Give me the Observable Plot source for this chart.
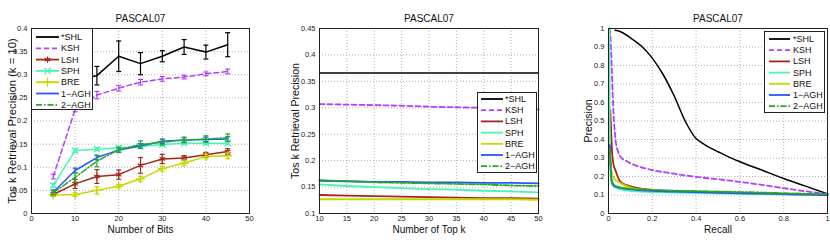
<!DOCTYPE html>
<html><head><meta charset="utf-8">
<script src="https://cdn.jsdelivr.net/npm/d3@7"></script>
<script src="https://cdn.jsdelivr.net/npm/@observablehq/plot@0.6"></script>
<style>
body{margin:0;background:#fff;font-family:"Liberation Sans",Arial,sans-serif;}
#wrap{position:relative;width:830px;height:249px;overflow:hidden;background:#fff;}
#wrap svg{position:absolute;top:0;}
</style></head><body><div id="wrap"></div>
<script>
const methods = ["*SHL","KSH","LSH","SPH","BRE","1\u2212AGH","2\u2212AGH"];
const colors = ["#000000","#b040ff","#a4261c","#48f5b4","#c4d800","#2656ff","#22aa22"];
const dashes = [null,"5,3",null,null,null,null,"6,2,1.5,2"];
const markers = [null,null,"asterisk","times","plus",null,null];
const title = "PASCAL07";

// Panel 1: precision vs number of bits
const bits = [5,10,15,20,25,30,35,40,45];
const p1SHL = [null,0.29,0.298,0.34,0.324,0.34,0.36,0.349,0.365];
const e1SHL = [null,0.02,0.02,0.033,0.024,0.012,0.016,0.015,0.026];
const p1KSH = [0.08,0.225,0.256,0.271,0.284,0.291,0.295,0.302,0.307];
const e1KSH = [0.005,0.005,0.008,0.006,0.006,0.005,0.004,0.004,0.005];
const p1LSH = [0.041,0.064,0.08,0.084,0.104,0.118,0.12,0.127,0.134];
const e1LSH = [0.004,0.01,0.015,0.01,0.017,0.01,0.005,0.005,0.006];
const p1SPH = [0.061,0.136,0.139,0.142,0.145,0.149,0.152,0.152,0.152];
const e1SPH = [0.004,0.004,0.003,0.003,0.003,0.003,0.003,0.003,0.003];
const p1BRE = [0.04,0.041,0.05,0.059,0.075,0.097,0.109,0.123,0.125];
const e1BRE = [0.003,0.004,0.008,0.004,0.005,0.005,0.005,0.005,0.006];
const p1AGH1 = [0.046,0.093,0.121,0.137,0.146,0.156,0.159,0.16,0.161];
const e1AGH1 = [0.005,0.005,0.005,0.005,0.005,0.005,0.005,0.005,0.005];
const p1AGH2 = [0.045,0.078,0.113,0.138,0.149,0.154,0.159,0.161,0.164];
const e1AGH2 = [0.004,0.01,0.012,0.005,0.008,0.006,0.006,0.007,0.008];
const xTicks1 = [0,10,20,30,40,50];
const yTicks1 = [0,0.05,0.1,0.15,0.2,0.25,0.3,0.35,0.4];

// Panel 2: precision vs number of top k
const topK = [10,15,20,25,30,35,40,45,50];
const p2SHL = [0.366,0.366,0.366,0.366,0.366,0.366,0.366,0.366,0.366];
const p2KSH = [0.307,0.306,0.305,0.304,0.302,0.301,0.300,0.298,0.297];
const p2LSH = [0.135,0.134,0.133,0.132,0.131,0.130,0.129,0.129,0.128];
const p2SPH = [0.155,0.152,0.150,0.148,0.146,0.145,0.143,0.142,0.140];
const p2BRE = [0.127,0.127,0.127,0.127,0.127,0.127,0.127,0.127,0.126];
const p2AGH1 = [0.162,0.161,0.160,0.160,0.159,0.159,0.158,0.158,0.157];
const p2AGH2 = [0.163,0.161,0.159,0.158,0.157,0.156,0.155,0.153,0.152];
const xTicks2 = [10,15,20,25,30,35,40,45,50];
const yTicks2 = [0.1,0.15,0.2,0.25,0.3,0.35,0.4,0.45];

// Panel 3: precision-recall curves
const rSHL = [0.03,0.05,0.1,0.15,0.2,0.25,0.3,0.35,0.4,0.425,0.45,0.5,0.55,0.6,0.7,0.8,0.9,1.0];
const pSHL = [0.99,0.985,0.95,0.905,0.84,0.75,0.635,0.5,0.405,0.383,0.364,0.334,0.305,0.28,0.235,0.189,0.148,0.106];
const rKSH = [0.006,0.01,0.015,0.02,0.025,0.032,0.045,0.06,0.08,0.1,0.2,0.3,0.4,0.5,0.6,0.7,0.8,0.9,1.0];
const pKSH = [1.0,0.93,0.78,0.62,0.5,0.4,0.33,0.30,0.285,0.272,0.235,0.215,0.198,0.185,0.171,0.155,0.137,0.12,0.105];
const rLSH = [0.008,0.011,0.014,0.017,0.022,0.032,0.055,0.1,0.146,0.2,0.3,0.5,0.7,1.0];
const pLSH = [0.56,0.48,0.39,0.32,0.27,0.232,0.17,0.147,0.135,0.128,0.122,0.115,0.108,0.1];
const rSPH = [0.004,0.005,0.006,0.008,0.012,0.02,0.04,0.08,0.15,0.3,0.5,0.7,1.0];
const pSPH = [1.0,0.7,0.4,0.25,0.18,0.15,0.135,0.125,0.118,0.113,0.109,0.105,0.1];
const rBRE = [0.008,0.012,0.02,0.04,0.07,0.1,0.15,0.2,0.3,0.5,0.7,1.0];
const pBRE = [0.32,0.25,0.2,0.175,0.155,0.14,0.13,0.125,0.12,0.113,0.107,0.1];
const rAGH1 = [0.006,0.009,0.012,0.017,0.025,0.05,0.1,0.2,0.3,0.5,0.7,1.0];
const pAGH1 = [0.37,0.28,0.2,0.165,0.15,0.14,0.13,0.122,0.118,0.112,0.107,0.1];
const rAGH2 = [0.006,0.01,0.015,0.025,0.05,0.1,0.2,0.4,0.6,0.8,1.0];
const pAGH2 = [0.35,0.24,0.18,0.155,0.142,0.133,0.127,0.121,0.116,0.11,0.103];
const xTicks3 = [0,0.2,0.4,0.6,0.8,1];
const yTicks3 = [0,0.1,0.2,0.3,0.4,0.5,0.6,0.7,0.8,0.9,1];

const FONT = "Liberation Sans, Arial, Helvetica, sans-serif";
const fmt = d => String(+d.toFixed(2));
const cap = {draw(ctx, size){ const r = Math.sqrt(size/Math.PI); ctx.moveTo(-r,0); ctx.lineTo(r,0); }};

function frameMarks(o){
  return [
    Plot.gridX(o.xTicks, {stroke:"#b0b0b0", strokeOpacity:1, strokeDasharray:"1,2"}),
    Plot.gridY(o.yTicks, {stroke:"#b0b0b0", strokeOpacity:1, strokeDasharray:"1,2"})
  ];
}
function decor(o){
  return [
    Plot.frame({stroke:"#222", strokeWidth:1}),
    Plot.axisX(o.xTicks, {tickSize:0, tickPadding:2, tickFormat:fmt, fontSize:7.5, fill:"#222", label:null}),
    Plot.axisY(o.yTicks, {tickSize:0, tickPadding:4, tickFormat:fmt, fontSize:7.5, fill:"#222", label:null}),
    Plot.text([title], {frameAnchor:"top", dy:-10, lineAnchor:"middle", textAnchor:"middle", fontSize:10, fill:"#111"}),
    Plot.text([o.xLabel], {frameAnchor:"bottom", dy:16, lineAnchor:"middle", textAnchor:"middle", fontSize:10, fill:"#111"}),
    Plot.text([o.yLabel], {frameAnchor:"left", rotate:-90, dx:o.yDx, lineAnchor:"middle", textAnchor:"middle", fontSize:o.ySize, fill:"#111"})
  ];
}
function panel(o, marks){
  const svg = Plot.plot({
    width:o.width, height:249, marginLeft:o.ml, marginRight:o.mr, marginTop:28, marginBottom:36,
    style:{fontFamily:FONT, background:"transparent", overflow:"visible"},
    x:{domain:o.xDomain}, y:{domain:o.yDomain},
    marks:[...frameMarks(o), ...marks, ...decor(o)]
  });
  svg.style.left = o.left + "px";
  document.getElementById("wrap").appendChild(svg);
}

// ---- Panel 1
const vals1 = [p1SHL,p1KSH,p1LSH,p1SPH,p1BRE,p1AGH1,p1AGH2];
const errs1 = [e1SHL,e1KSH,e1LSH,e1SPH,e1BRE,e1AGH1,e1AGH2];
const marks1 = [];
methods.forEach((m,i)=>{
  const rows = bits.map((b,j)=>({x:b, y:vals1[i][j], e:errs1[i][j]})).filter(d=>d.y!=null);
  marks1.push(Plot.line(rows, {x:"x", y:"y", stroke:colors[i], strokeWidth:1.5, strokeDasharray:dashes[i]||undefined}));
  marks1.push(Plot.ruleX(rows, {x:"x", y1:d=>d.y-d.e, y2:d=>d.y+d.e, stroke:colors[i], strokeWidth:1.2}));
  marks1.push(Plot.dot(rows, {x:"x", y:d=>d.y+d.e, symbol:cap, r:2.5, stroke:colors[i], strokeWidth:1.2}));
  marks1.push(Plot.dot(rows, {x:"x", y:d=>d.y-d.e, symbol:cap, r:2.5, stroke:colors[i], strokeWidth:1.2}));
  if (markers[i]) marks1.push(Plot.dot(rows, {x:"x", y:"y", symbol:markers[i], r:3, stroke:colors[i], strokeWidth:1.2}));
});
panel({left:0, width:276, ml:31, mr:27, xDomain:[0,50], yDomain:[0,0.4], xTicks:xTicks1, yTicks:yTicks1,
  xLabel:"Number of Bits", yLabel:"Tos k Retrieval Precision (k = 10)", yDx:-19, ySize:11.3}, marks1);

// ---- Panel 2
const vals2 = [p2SHL,p2KSH,p2LSH,p2SPH,p2BRE,p2AGH1,p2AGH2];
const marks2 = methods.map((m,i)=>{
  const rows = topK.map((k,j)=>({x:k, y:vals2[i][j]}));
  return Plot.line(rows, {x:"x", y:"y", stroke:colors[i], strokeWidth: i===0?1.5:1.8, strokeDasharray:dashes[i]||undefined});
});
panel({left:276, width:277, ml:43, mr:15, xDomain:[10,50], yDomain:[0.1,0.45], xTicks:xTicks2, yTicks:yTicks2,
  xLabel:"Number of Top k", yLabel:"Tos k Retrieval Precision", yDx:-24, ySize:10.6}, marks2);

// ---- Panel 3
const recs = [rSHL,rKSH,rLSH,rSPH,rBRE,rAGH1,rAGH2];
const precs = [pSHL,pKSH,pLSH,pSPH,pBRE,pAGH1,pAGH2];
const marks3 = methods.map((m,i)=>{
  const rows = recs[i].map((r,j)=>({x:r, y:precs[i][j]}));
  return Plot.line(rows, {x:"x", y:"y", stroke:colors[i], strokeWidth: i===0?1.5:1.8, strokeDasharray:dashes[i]||undefined, curve:"monotone-x"});
});
panel({left:553, width:277, ml:55, mr:3, xDomain:[0,1], yDomain:[0,1], xTicks:xTicks3, yTicks:yTicks3,
  xLabel:"Recall", yLabel:"Precision", yDx:-20, ySize:10.5}, marks3);

// ---- Legends
const symTypes = {asterisk:d3.symbolAsterisk, times:d3.symbolTimes, plus:d3.symbolPlus};
function legend(o){
  const svg = d3.select("#wrap").append("svg")
    .style("left", o.left+"px").style("top", o.top+"px")
    .attr("width", o.w).attr("height", o.h);
  svg.append("rect").attr("x",0.5).attr("y",0.5).attr("width",o.w-1).attr("height",o.h-1)
    .attr("fill","#fff").attr("stroke","#222").attr("stroke-width",1);
  methods.forEach((m,i)=>{
    const y = o.y0 + i*o.dy;
    svg.append("line").attr("x1",o.s1).attr("x2",o.s2).attr("y1",y).attr("y2",y)
      .attr("stroke",colors[i]).attr("stroke-width",1.8).attr("stroke-dasharray",dashes[i]);
    if (o.markers && markers[i]) {
      svg.append("path").attr("d", d3.symbol(symTypes[markers[i]], 9*Math.PI)())
        .attr("transform",`translate(${(o.s1+o.s2)/2},${y})`)
        .attr("fill","none").attr("stroke",colors[i]).attr("stroke-width",1.2);
    }
    svg.append("text").attr("x",o.tx).attr("y",y).attr("dominant-baseline","central")
      .attr("font-family",FONT).attr("font-size",9).attr("fill","#111").text(m);
  });
}
legend({left:31, top:28, w:62, h:82, y0:9, dy:11.3, s1:5, s2:28, tx:30, markers:true});
legend({left:477, top:92, w:60, h:81, y0:7, dy:11.2, s1:4, s2:26, tx:28, markers:false});
legend({left:764, top:31, w:61, h:82, y0:8, dy:11.2, s1:5, s2:26, tx:29, markers:false});
</script>
</body></html>
